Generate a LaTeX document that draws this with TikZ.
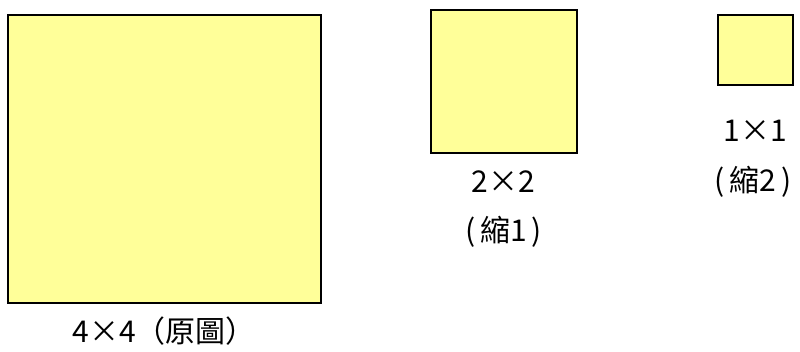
\documentclass[tikz,border=0pt]{standalone}
\usepackage{fontspec}
\newfontfamily\cjk{Noto Sans CJK TC}
\usetikzlibrary{positioning}
\definecolor{tileyellow}{HTML}{FFFF99}

\begin{document}
\begin{tikzpicture}[x=1pt, y=-1pt,
    tile/.style={draw=black, line width=2pt, fill=tileyellow, inner sep=0pt},
    caption/.style={font=\cjk\fontsize{30}{30}\selectfont, inner sep=0pt}]
    \useasboundingbox (0,0) rectangle (800,351);

    % Squares
    \node[tile, minimum width=313pt, minimum height=288pt] (orig) at (164,158.5) {};
    \node[tile, minimum width=146pt, minimum height=143pt] (half) at (503.5,81) {};
    \node[tile, minimum width=75pt, minimum height=70pt] (quarter) at (755,49.5) {};

    % Captions
    \node[caption] (origtxt) at ([yshift=-27.5pt]orig.south) {4×4（原圖）};
    \node[caption] (halfsize) at ([yshift=-28.5pt]half.south) {2×2};
    \node[caption] (halfnote) at ([yshift=-50pt]halfsize.center) {(\,縮1\,)};
    \node[caption] (quartersize) at ([yshift=-45.5pt]quarter.south) {1×1};
    \node[caption] (quarternote) at ([xshift=-2pt,yshift=-51pt]quartersize.center) {(\,縮2\,)};
\end{tikzpicture}
\end{document}
